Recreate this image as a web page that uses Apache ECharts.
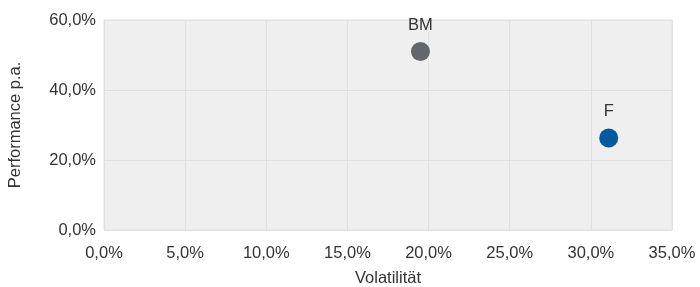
<!DOCTYPE html>
<html>
<head>
<meta charset="utf-8">
<script src="https://cdn.jsdelivr.net/npm/echarts@6/dist/echarts.min.js"></script>
<style>
  html, body { margin: 0; padding: 0; background: #fff; }
  #chart { width: 700px; height: 287px; }
</style>
</head>
<body>
<div id="chart"></div>
<script>
// Punkte: Volatilität / Performance p.a. in %
const names = ['BM', 'F']
const volatility = [19.5, 31.1]
const performance = [51.0, 26.3]
const pointColors = ['#63666a', '#005a9c']

const xTicks = { min: 0, max: 35, interval: 5 }
const yTicks = { min: 0, max: 60, interval: 20 }

const pct = v => v.toFixed(1).replace('.', ',') + '%'
const font = 'Liberation Sans, Arial, sans-serif'
const fs = 16.5

const chart = echarts.init(document.getElementById('chart'))

chart.setOption({
  animation: false,
  textStyle: { fontFamily: font },
  grid: {
    left: 104,
    right: 28,
    top: 20,
    bottom: 57,
    containLabel: false,
    outerBoundsMode: 'none',
    show: true,
    backgroundColor: '#efefef',
    borderColor: '#e2e2e2',
    borderWidth: 1
  },
  xAxis: {
    type: 'value',
    min: xTicks.min,
    max: xTicks.max,
    interval: xTicks.interval,
    name: 'Volatilität',
    nameLocation: 'middle',
    nameGap: 40,
    nameTextStyle: { fontSize: fs, color: '#333', fontFamily: font },
    axisLine: { show: false },
    axisTick: { show: false },
    axisLabel: { formatter: pct, fontSize: fs, color: '#333', margin: 15, fontFamily: font },
    splitLine: { show: true, lineStyle: { color: '#e0e0e0', width: 1 } }
  },
  yAxis: {
    type: 'value',
    min: yTicks.min,
    max: yTicks.max,
    interval: yTicks.interval,
    name: 'Performance p.a.',
    nameLocation: 'middle',
    nameGap: 80,
    nameTextStyle: { fontSize: fs, color: '#333', fontFamily: font },
    axisLine: { show: false },
    axisTick: { show: false },
    axisLabel: { formatter: pct, fontSize: fs, color: '#333', margin: 8, fontFamily: font },
    splitLine: { show: true, lineStyle: { color: '#e0e0e0', width: 1 } }
  },
  series: [{
    type: 'scatter',
    symbolSize: 19,
    data: names.map((n, i) => ({
      name: n,
      value: [volatility[i], performance[i]],
      itemStyle: { color: pointColors[i], opacity: 1 }
    })),
    label: {
      show: true,
      position: 'top',
      distance: 8,
      formatter: '{b}',
      fontSize: fs,
      color: '#333',
      fontFamily: font
    }
  }]
})
</script>
</body>
</html>
